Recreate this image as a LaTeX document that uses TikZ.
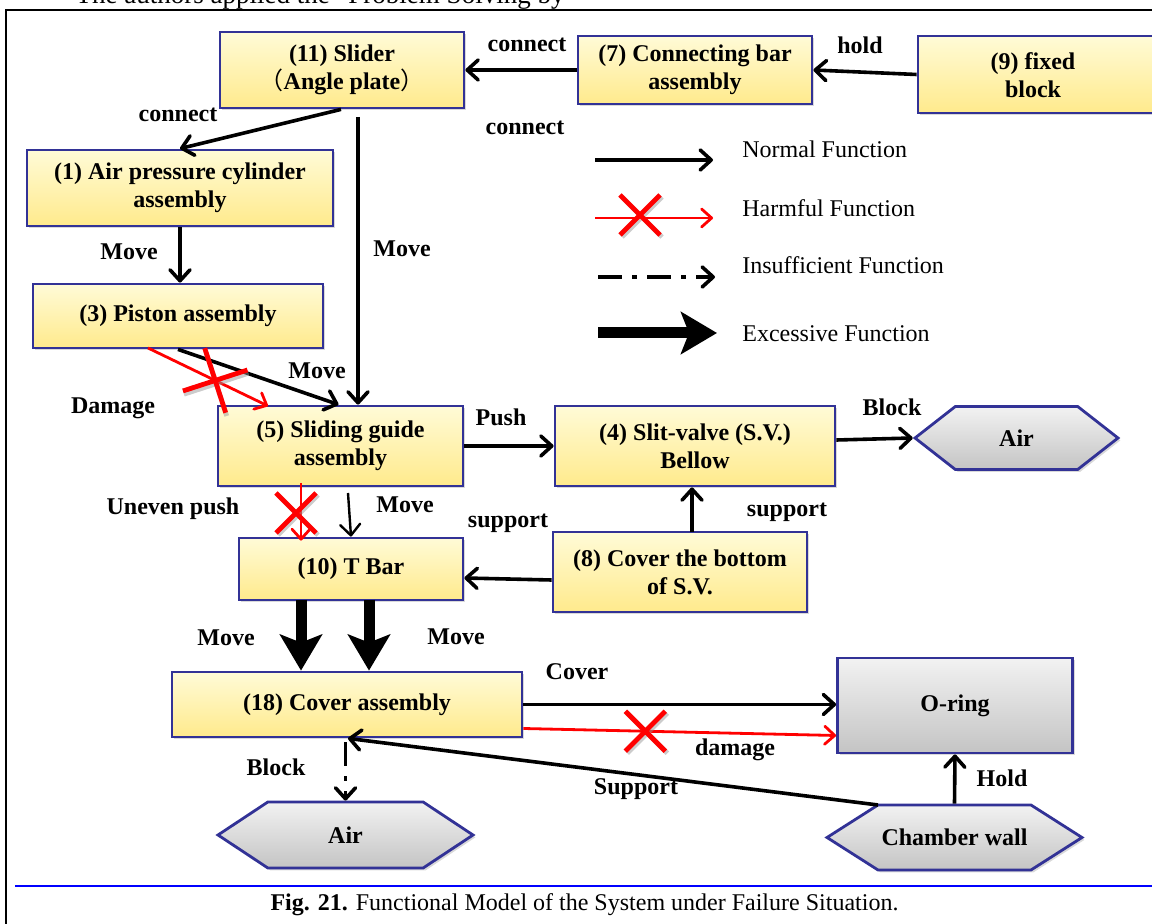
\documentclass[tikz,border=0pt]{standalone}
\usepackage{fontspec}
\setmainfont{Liberation Serif}
\newfontfamily\cjkfont{Noto Sans CJK SC}
\usetikzlibrary{arrows.meta,shapes.symbols,shadows,calc}
\definecolor{boxblue}{RGB}{50,50,150}
\definecolor{ytop}{RGB}{255,251,215}
\definecolor{ybot}{RGB}{255,234,140}
\definecolor{gtop}{RGB}{242,242,242}
\definecolor{gbot}{RGB}{196,196,196}
\definecolor{capblue}{RGB}{0,0,255}
\begin{document}
\begin{tikzpicture}[x=0.5pt,y=-0.5pt,
 shadowed/.style={drop shadow={opacity=0.3,shadow xshift=1.2pt,shadow yshift=-1.2pt}},
 ybox/.style={draw=boxblue,line width=1.4pt,top color=ytop,bottom color=ybot,shadowed,inner sep=0pt,align=center,font=\bfseries\fontsize{12}{14}\selectfont},
 gbox/.style={ybox,top color=gtop,bottom color=gbot},
 hexa/.style={gbox,shape=signal,signal to=west and east},
 lbl/.style={font=\bfseries\fontsize{12}{14}\selectfont,inner sep=0pt},
 leg/.style={font=\fontsize{12}{14}\selectfont,inner sep=0pt,anchor=west},
 normal/.style={line width=1.8pt,-{Straight Barb[length=5.5pt,width=10pt,round]}},
 harm/.style={red,line width=1.4pt,-{Straight Barb[length=5pt,width=9pt,round]}},
 insuff/.style={line width=1.8pt,dash pattern=on 12pt off 5pt on 2.5pt off 5pt,-{Straight Barb[length=5.5pt,width=10pt,round]}},
 excess/.style={line width=5.5pt,-{Stealth[length=18pt,width=21pt,inset=4pt]}},
 redx/.pic={\draw[black!40,opacity=0.5,line width=2.4pt] (-9pt,-11pt)--(11pt,9pt) (-9pt,9pt)--(11pt,-11pt);
            \draw[red,line width=2.4pt] (-10pt,-10pt)--(10pt,10pt) (-10pt,10pt)--(10pt,-10pt);}
]
\useasboundingbox (0,0) rectangle (1152,924);
\clip (0,0) rectangle (1152,924);

% top cut text and frame
\node[anchor=base,inner sep=0pt,font=\fontsize{13.5}{15}\selectfont] (toptext) at (320,4) {The authors applied the “Problem Solving by};
\draw[line width=1pt] (6,924) -- (6,10) -- (1152,10);

% boxes
\node[ybox,minimum width=122pt,minimum height=38pt] (n11) at (342,70) {(11) Slider\\{\cjkfont\mdseries （}Angle plate{\cjkfont\mdseries ）}};
\node[ybox,minimum width=117pt,minimum height=34pt] (n7) at (695,70) {(7) Connecting bar\\assembly};
\node[ybox,minimum width=121pt,minimum height=38.5pt] (n9) at (1039,74.5) {};
\node[lbl,align=center,font=\bfseries\fontsize{12}{14}\selectfont] (n9t) at (1033,75) {(9) fixed\\block};
\node[ybox,minimum width=153pt,minimum height=38pt] (n1) at (180,188) {(1) Air pressure cylinder\\assembly};
\node[ybox,minimum width=145pt,minimum height=32pt] (n3) at (178,316) {(3) Piston assembly};
\node[ybox,minimum width=122.5pt,minimum height=40pt] (n5) at (340.5,446) {(5) Sliding guide\\assembly};
\node[ybox,minimum width=140pt,minimum height=40pt] (n4) at (695,446) {(4) Slit-valve (S.V.)\\Bellow};
\node[ybox,minimum width=112pt,minimum height=31pt] (n10) at (351,569) {(10) T Bar};
\node[ybox,minimum width=127pt,minimum height=40pt] (n8) at (680,572) {(8) Cover the bottom\\of S.V.};
\node[ybox,minimum width=175pt,minimum height=32.5pt] (n18) at (347,704.5) {(18) Cover assembly};
\node[gbox,minimum width=117.5pt,minimum height=47.5pt] (nO) at (955,705.5) {O-ring};
\node[hexa,signal pointer angle=76,minimum width=101.5pt,minimum height=31.5pt] (airR) at (1016.5,438) {Air};
\node[hexa,signal pointer angle=67,minimum width=127.5pt,minimum height=33pt] (airB) at (345.5,835) {Air};
\node[hexa,signal pointer angle=65,minimum width=127.5pt,minimum height=32.5pt] (cham) at (954.5,837.5) {Chamber wall};

% connectors
\draw[normal] (n7.west) -- (n11.east);
\draw[normal] (n9.west) -- (n7.east);
\draw[normal] ([xshift=-0.5pt]n11.south) -- (n1.north);
\coordinate (c11) at (358,117);
\draw[normal] (c11) -- (c11 |- n5.north);
\draw[normal] (n1.south) -- (n1.south |- n3.north);
\draw[normal] (n3.south) -- ([xshift=-1pt]n5.north);
\coordinate (h3) at (148,348);
\coordinate (h5) at (268,406);
\draw[harm] (h3) -- (h5);
\pic[rotate=-27,scale=1.2] at ($(h3)!0.56!(h5)$) {redx};
\coordinate (u5) at (301,483);
\draw[harm] (u5) -- ([yshift=-2pt]u5 |- n10.north);
\pic at (296,513) {redx};
\coordinate (m5) at (348,493);
\draw[normal,line width=1.2pt] (m5) -- (n10.north);
\draw[normal] (n5.east) -- (n4.west);
\draw[normal] ([yshift=3pt]n4.east) -- (airR.west);
\coordinate (s8) at (692,532);
\draw[normal] (s8) -- (s8 |- n4.south);
\draw[normal] ([yshift=-4pt]n8.west) -- ([yshift=-4.5pt]n10.east);
\coordinate (e1) at (301,600);
\coordinate (e2) at (369,600);
\draw[excess] (e1) -- (e1 |- n18.north);
\draw[excess] (e2) -- (e2 |- n18.north);
\draw[normal] (n18.east) -- (nO.west |- n18.east);
\coordinate (d18) at ([yshift=-12pt]n18.east);
\coordinate (dO) at ([yshift=-15pt]nO.west);
\draw[harm] (d18) -- (dO);
\pic at ($(d18)!0.39!(dO)$) {redx};
\coordinate (cw) at (878,805);
\draw[normal] (cw) -- ([xshift=0.5pt]n18.south);
\draw[normal] (cham.north) -- (nO.south);
\draw[insuff] ([yshift=-2pt]airB.north |- n18.south) -- (airB.north);

% labels
\node[lbl] (l1) at (527,45) {connect};
\node[lbl] (l2) at (860,45) {hold};
\node[lbl] (l3) at (178,115) {connect};
\node[lbl] (l4) at (525,128) {connect};
\node[lbl] (l5) at (402,249) {Move};
\node[lbl] (l6) at (129,252) {Move};
\node[lbl] (l7) at (317,371) {Move};
\node[lbl] (l8) at (113,408) {Damage};
\node[lbl] (l9) at (501,417) {Push};
\node[lbl] (l10) at (892,407) {Block};
\node[lbl] (l11) at (173,509) {Uneven push};
\node[lbl] (l12) at (405,505) {Move};
\node[lbl] (l13) at (508,523) {support};
\node[lbl] (l14) at (787,512) {support};
\node[lbl] (l15) at (226,638) {Move};
\node[lbl] (l16) at (456,637) {Move};
\node[lbl] (l17) at (577,672) {Cover};
\node[lbl] (l18) at (735,750) {damage};
\node[lbl] (l19) at (636,789) {Support};
\node[lbl] (l20) at (1002,778) {Hold};
\node[lbl] (l21) at (276,767) {Block};

% legend
\coordinate (La1) at (595,160); \coordinate (La2) at (713,160);
\draw[normal] (La1) -- (La2);
\node[leg] (Lt1) at (742,149) {Normal Function};
\coordinate (Lb1) at (595,218); \coordinate (Lb2) at (713,218);
\draw[harm] (Lb1) -- (Lb2);
\pic at (640,215) {redx};
\node[leg] (Lt2) at (742,208) {Harmful Function};
\coordinate (Lc1) at (598,277); \coordinate (Lc2) at (715,277);
\draw[insuff] (Lc1) -- (Lc2);
\node[leg] (Lt3) at (742,265) {Insufficient Function};
\coordinate (Ld1) at (598,333); \coordinate (Ld2) at (717,333);
\draw[excess] (Ld1) -- (Ld2);
\node[leg] (Lt4) at (742,334) {Excessive Function};

% caption
\draw[capblue,line width=1pt] (15,886) -- (1152,886);
\node[inner sep=0pt,font=\fontsize{12}{14}\selectfont] (cap) at (584.5,905) {\textbf{Fig. 21.} Functional Model of the System under Failure Situation.};
\end{tikzpicture}
\end{document}
